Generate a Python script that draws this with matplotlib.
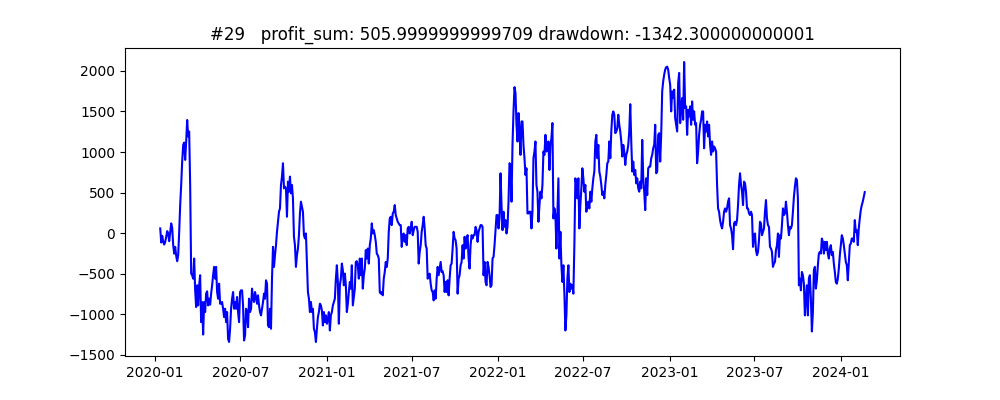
import numpy as np
import pandas as pd
import matplotlib
matplotlib.use("Agg")
import matplotlib.pyplot as plt

# cumulative profit (one value about every 2 days)
start_date = "2020-01-12"
end_date = "2024-02-21"

seg_2020a = [58, -115, -33, -107, -140, -107, -45, 25, -4, -99, 16, 120, 66, -148, -252, -169,
             -280, -346, -272, 16, 346, 594, 882, 1088, 1117, 903, 1130, 1395, 1192, 1253, 594, -499,
             -519, -561, -313, -705, -911, -643, -891, -643, -519, -1097, -849, -1250, -849, -973,
             -746, -717, -891, -808, -882, -746, -643, -519, -416, -561, -416, -726, -808, -623,
             -870, -870, -849, -932, -1035, -932, -1097, -973, -1303, -1342, -1179, -932, -808,
             -726, -932, -849, -932, -787, -973, -1097, -726, -705, -705, -891, -1323, -1262, -932,
             -973, -1159, -808, -973, -932, -684, -808, -849, -726, -787, -870, -767, -891, -973,
             -1014, -932, -849, -746, -808]

seg_2020b = [-581, -623, -1138, -1159, -932, -1179, -561, -169, -416, -272, -148, 16, 140, 264,
             305, 594, 697, 862, 552, 573, 552, 202, 635, 511, 697, 491, 594, 429, -45, -148, -416,
             -272, -190, -25, 243, 388, 326, 264, -25, -66, -4, -355, -726, -808, -973, -849, -973,
             -932, -1179, -1220, -1342, -1179, -1035, -973, -870, -891, -952, -1138, -973, -1097,
             -1014, -1117, -1055, -973, -1200, -1014, -973, -891, -849, -808, -561, -396, -602,
             -1117, -643, -561, -375, -458, -643, -499, -643, -973, -870, -726, -602, -684, -396,
             -891, -787, -684, -355, -346, -396, -561, -313, -519, -313, -684, -519, -437, -210,
             -313, -190, -375, -148, -66, 120, -4, 37, -25, -107, -252, -272, -313, -726, -746,
             -726, -767, -561, -478]

seg_2021 = [-355, -416, -313, 16, 181, 202, 99, 243, 264, 346, 223, 181, 140, 120, 99, 99, -169,
            -25, -4, -107, -25, -148, 58, 78, -4, 58, 140, -25, 37, 78, 78, 78, 16, -375, -231,
            -148, 16, 99, 202, 58, -148, -190, -561, -519, -499, -623, -705, -726, -829, -705,
            -808, -561, -416, -519, -437, -355, -478, -470, -519, -726, -602, -726, -581, -767,
            -561, -396, -375, -190, 16, -66, -87, -190, -746, -561, -519, -396, -355, -148, -313,
            -45, -190, -66, -25, -313, -437, -148, -25, -66, -25, -25, 78, 37, -107, 16, 58, 99,
            99, 78, -519, -355, -602, -643, -355, -416, -519, -664, -643, -313, -293, -148, 37,
            223, 223, 58, 181, 738, 346, 37, 264, 78]

seg_2022 = [161, -4, 78, 388, 862, 841, 388, 1088, 1501, 1800, 1728, 1336, 1130, 1480, 1253, 965,
            1377, 1377, 1088, 924, 717, 800, 243, 243, 264, 264, 58, 264, 924, 1006, 1130, 594,
            511, 140, 346, 511, 429, 594, 1006, 965, 1212, 1006, 1088, 1130, 779, 1088, 1171,
            1357, 181, 305, 223, -190, 223, 676, -313, 16, -396, -602, -396, -746, -1200, -1014,
            -561, -396, -726, -623, -684, -643, -746, -148, 676, 594, 429, 676, 58, 346, 552, 800,
            676, 511, 594, 264, 346, 388, 305, 511, 388, 552, 676, 759, 1130, 1212, 924, 1088,
            759, 697, 594, 470, 511, 429, 594, 717, 862, 882, 1130, 924, 1253, 1460, 1501, 1460,
            1233, 1253, 1295, 1460, 1336, 1253, 1130, 944, 1088, 1006]

seg_2023a = [841, 965, 1006, 1088, 1253, 1590, 1130, 759, 882, 717, 779, 614, 676, 552, 511, 635,
             552, 1150, 676, 511, 284, 676, 470, 800, 820, 820, 924, 965, 1047, 1088, 1336, 738,
             759, 1212, 1233, 882, 1212, 1748, 1872, 1954, 2016, 2045, 2053, 2016, 1913, 1831,
             1501, 1748, 1666, 1769, 1418, 1336, 1253, 1851, 1975, 1357, 1542, 1666, 1398, 2110,
             1542, 1563, 1212, 1521, 1439, 1563, 1336, 1624, 1398, 1501, 1336, 1357, 862, 1006,
             1212, 1336, 1398, 1501, 1501, 1047, 1336, 1253, 1377, 1192, 1336, 1088, 965, 1130,
             1006, 1068, 1047, 1006, 594, 305, 264, 161, 99, 58, 140, 264, 305, 264, 305, 388, 429,
             99, 58, -25, -198, 120, 140, 99, 161, 346, 594, 738, 594, 511, 346, 635]

seg_2023b = [614, 511, 305, 305, 243, 223, 264, 223, -169, -25, -4, -210, -272, -231, -87, 140,
             120, -25, 16, 58, 264, 408, 181, 99, 78, -169, -190, -231, -416, -375, -355, -210,
             -148, -4, -293, -25, -66, 99, 305, 223, 243, 388, 264, 99, -25, 78, 58, 99, 264, 449,
             573, 676, 656, 429, -643, -561, -705, -478, -519, -623, -1014, -808, -643, -1014,
             -561, -519, -808, -1212, -973, -458, -416, -684, -581, -396, -252, -231, -252, -66,
             -107, -252, -107, -210, -107, -252, -313, -190, -148, -272, -231, -375, -478, -602,
             -623, -561, -437, -272, -148, -25, -66, -148, -252, -355, -396, -581, -355, -148,
             -128, -66, -66, -107, 161, 16, 37, -148, 58, 181, 284, 346, 388, 449, 506]

profit = np.array(seg_2020a + seg_2020b + seg_2021 + seg_2022 + seg_2023a + seg_2023b)
dates = pd.date_range(start_date, end_date, periods=len(profit))

title = "#29   profit_sum: 505.9999999999709 drawdown: -1342.300000000001"

fig, ax = plt.subplots(figsize=(10, 4), dpi=100)
ax.plot(dates, profit, color="blue")
ax.set_title(title)
fig.savefig("out.png")
